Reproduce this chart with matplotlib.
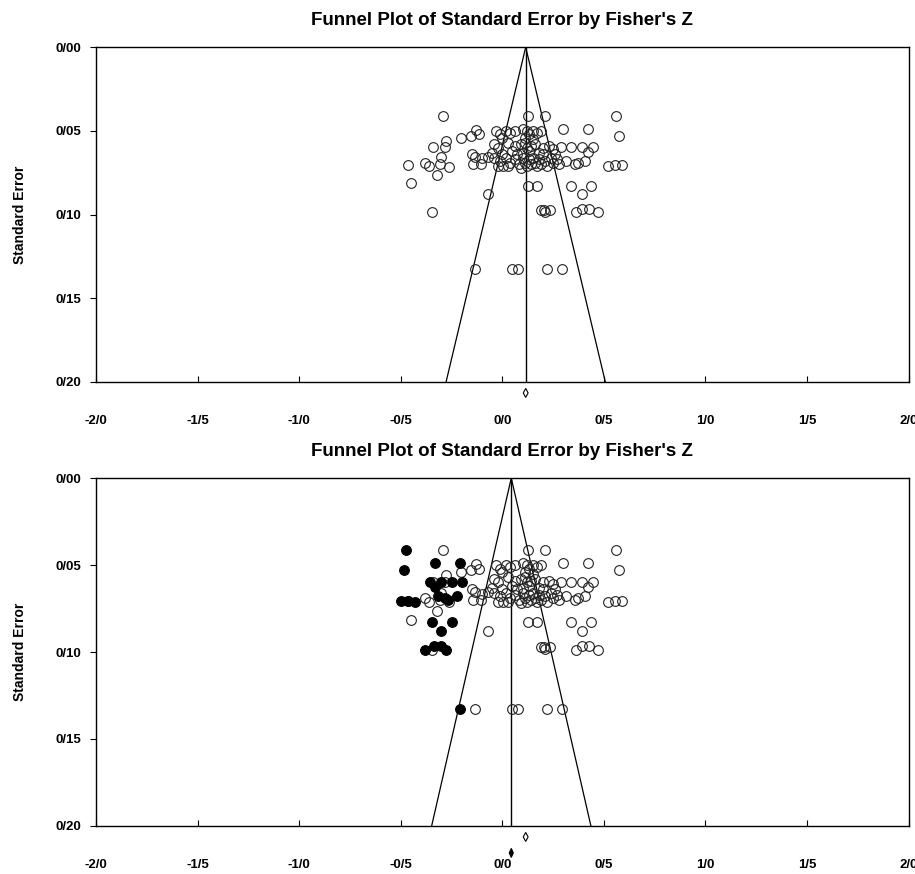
import numpy as np
import matplotlib
matplotlib.use('Agg')
import matplotlib.pyplot as plt
from matplotlib.patches import Polygon
from matplotlib.ticker import FuncFormatter

plt.rcParams['font.family'] = ['Liberation Sans', 'DejaVu Sans']
plt.rcParams['font.weight'] = 'bold'

TITLE = "Funnel Plot of Standard Error by Fisher's Z"

# observed studies (Fisher's Z, standard error)
obs_z = [-0.290, 0.127, 0.212, 0.562,
         -0.205, -0.153, -0.131, -0.113, -0.030, -0.010, 0.020, 0.040, 0.060, 0.100,
         0.120, 0.130, 0.150, 0.170, 0.190, 0.300, 0.420, 0.575, 0.000, 0.110, 0.150, -0.276,
         -0.341, -0.284, 0.290, 0.340, 0.390, 0.447, 0.422, -0.040, -0.020, 0.030, 0.060,
         0.090, 0.110, 0.120, 0.140, 0.160, 0.200, 0.230, 0.250, 0.050, 0.100, 0.130, 0.180,
         -0.050, 0.000, -0.149,
         -0.300, -0.136, -0.100, -0.144, -0.107, -0.070, -0.465, -0.383, -0.361, -0.309,
         -0.264, -0.320, 0.356, 0.373, 0.405, 0.315, 0.520, 0.553, 0.590,
         -0.040, -0.010, 0.020, 0.040, 0.060, 0.080, 0.100, 0.110, 0.120, 0.130, 0.140,
         0.150, 0.160, 0.170, 0.180, 0.190, 0.210, 0.220, 0.240, 0.250, 0.270, 0.280,
         0.030, 0.070, 0.090, 0.005, -0.020, 0.200, 0.260,
         -0.448, -0.070, 0.127, 0.172, 0.340, 0.435, 0.390,
         -0.346, 0.190, 0.205, 0.210, 0.233, 0.365, 0.393, 0.425, 0.473,
         -0.134, 0.048, 0.077, 0.218, 0.296]
obs_se = [0.0412, 0.0412, 0.0412, 0.0412,
          0.054, 0.053, 0.0496, 0.052, 0.050, 0.052, 0.050, 0.051, 0.050, 0.049,
          0.050, 0.052, 0.050, 0.051, 0.050, 0.049, 0.049, 0.053, 0.054, 0.054, 0.055, 0.056,
          0.0595, 0.0595, 0.0595, 0.0595, 0.0595, 0.0595, 0.0625, 0.058, 0.060, 0.057, 0.059,
          0.058, 0.057, 0.060, 0.059, 0.058, 0.060, 0.059, 0.061, 0.062, 0.063, 0.062, 0.063,
          0.063, 0.064, 0.064,
          0.0659, 0.0655, 0.0665, 0.070, 0.070, 0.0655, 0.0704, 0.0689, 0.071, 0.070,
          0.0715, 0.0764, 0.070, 0.069, 0.068, 0.068, 0.071, 0.0704, 0.0704,
          0.066, 0.068, 0.066, 0.069, 0.067, 0.070, 0.066, 0.069, 0.071, 0.067, 0.070,
          0.066, 0.069, 0.071, 0.067, 0.070, 0.068, 0.071, 0.066, 0.069, 0.067, 0.070,
          0.071, 0.064, 0.072, 0.071, 0.071, 0.064, 0.064,
          0.0814, 0.088, 0.083, 0.083, 0.083, 0.083, 0.088,
          0.0987, 0.097, 0.097, 0.0985, 0.097, 0.0987, 0.0967, 0.0967, 0.0987,
          0.1327, 0.1327, 0.1327, 0.1327, 0.1327]

# imputed studies (trim and fill)
imp_z = [-0.472, -0.210, -0.330, -0.485, -0.200, -0.250, -0.300, -0.357, -0.332,
         -0.266, -0.283, -0.315, -0.225, -0.430, -0.463, -0.500, -0.250, -0.345,
         -0.300, -0.275, -0.303, -0.335, -0.383, -0.206]
imp_se = [0.0412, 0.049, 0.049, 0.053, 0.0595, 0.0595, 0.0595, 0.0595, 0.0625,
          0.070, 0.069, 0.068, 0.068, 0.071, 0.0704, 0.0704, 0.083, 0.083,
          0.088, 0.0987, 0.0967, 0.0967, 0.0987, 0.1327]

# summary estimates: point, lower, upper
obs_mean, obs_lo, obs_hi = 0.115, 0.103, 0.127
adj_mean, adj_lo, adj_hi = 0.044, 0.034, 0.054

SE_MAX = 0.20

fig = plt.figure(figsize=(9.15, 8.74), dpi=100)
ax1 = fig.add_axes([0.105, 0.563, 0.888, 0.383])
ax2 = fig.add_axes([0.105, 0.055, 0.888, 0.398])

fmt_x = FuncFormatter(lambda v, p: f'{v:.1f}'.replace('.', '/'))
fmt_y = FuncFormatter(lambda v, p: f'{v:.2f}'.replace('.', '/'))


def diamond(ax, lo, mid, hi, yc, hh, filled):
    d = Polygon([[lo, yc], [mid, yc - hh], [hi, yc], [mid, yc + hh]], closed=True,
                facecolor='black' if filled else 'white', edgecolor='black', lw=0.8,
                clip_on=False, zorder=5)
    ax.add_patch(d)


def base(ax, mean):
    ax.plot([mean, mean], [0, SE_MAX], color='black', lw=1)
    ax.plot([mean, mean - 1.96 * SE_MAX], [0, SE_MAX], color='black', lw=0.9)
    ax.plot([mean, mean + 1.96 * SE_MAX], [0, SE_MAX], color='black', lw=0.9)
    ax.set_xlim(-2, 2)
    ax.set_ylim(SE_MAX, 0)
    ax.set_xticks(np.arange(-2, 2.01, 0.5))
    ax.set_yticks(np.arange(0, 0.201, 0.05))
    ax.xaxis.set_major_formatter(fmt_x)
    ax.yaxis.set_major_formatter(fmt_y)
    ax.tick_params(axis='x', direction='in', length=4, pad=24, labelsize=9.5)
    ax.tick_params(axis='y', direction='out', length=4, pad=7, labelsize=9.5)
    for s in ax.spines.values():
        s.set_linewidth(1)
    ax.set_ylabel('Standard Error', fontsize=10, fontweight='bold', labelpad=20)
    ax.set_title(TITLE, fontsize=13.5, fontweight='bold', pad=16)
    ax.plot(obs_z, obs_se, 'o', ms=7, mfc='none', mec='#222222', mew=0.8, zorder=3)


base(ax1, obs_mean)
diamond(ax1, obs_lo, obs_mean, obs_hi, SE_MAX + 11 / 1675, 4.5 / 1675, False)

base(ax2, adj_mean)
ax2.plot(imp_z, imp_se, 'o', ms=7, mfc='black', mec='black', mew=0.8, zorder=4)
diamond(ax2, obs_lo, obs_mean, obs_hi, SE_MAX + 11 / 1740, 4.5 / 1740, False)
diamond(ax2, adj_lo, adj_mean, adj_hi, SE_MAX + 27 / 1740, 4.5 / 1740, True)

fig.savefig('out.png', dpi=100)
